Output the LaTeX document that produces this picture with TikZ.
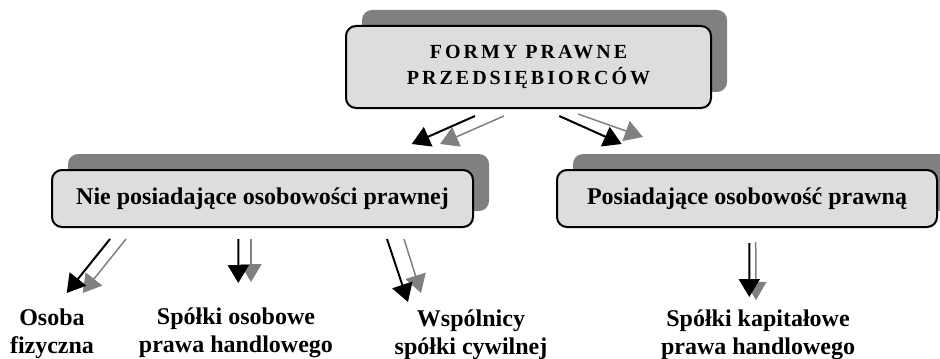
\documentclass[tikz,border=0pt]{standalone}
\usepackage{fontspec}
\setmainfont{Liberation Serif}
\usepackage{tikz}
\usetikzlibrary{arrows.meta,shadows}
\definecolor{boxfill}{RGB}{221,221,221}
\definecolor{shadowgray}{RGB}{128,128,128}

\begin{document}
\begin{tikzpicture}[
  x=0.5pt,y=-0.5pt,
  form/.style={draw,line width=1pt,rounded corners=5pt,fill=boxfill,align=center,inner sep=0pt,
    font=\fontsize{12}{14}\selectfont\bfseries,
    drop shadow={shadow xshift=8pt,shadow yshift=8pt,fill=shadowgray,opacity=1}},
  kind/.style={align=center,anchor=north,inner sep=0pt,font=\fontsize{12}{14}\selectfont\bfseries},
  blk/.style={line width=1pt,draw=black,-{Triangle[length=9pt,width=10.5pt,fill=black]}},
  gry/.style={line width=0.75pt,draw=shadowgray,-{Triangle[length=9pt,width=10.5pt,fill=shadowgray]}}
]
\useasboundingbox (0,0) rectangle (940,358);
\node[form,minimum width=182.5pt,minimum height=41pt,
  font={\fontsize{10}{13}\selectfont\bfseries\addfontfeatures{LetterSpace=15}}] (top) at (528.5,67) {FORMY PRAWNE\\PRZEDSIĘBIORCÓW};
\node[form,minimum width=210.5pt,minimum height=28.5pt] (nie) at (262.5,198.5) {Nie posiadające osobowości prawnej};
\node[form,minimum width=190pt,minimum height=28.5pt] (pos) at (747,198.5) {Posiadające osobowość prawną};
\node[kind] (osoba) at (52,308) {Osoba\\fizyczna};
\node[kind] (osobowe) at (236,307.5) {Spółki osobowe\\prawa handlowego};
\node[kind] (wspol) at (471,309) {Wspólnicy\\spółki cywilnej};
\node[kind] (kapital) at (758,309.5) {Spółki kapitałowe\\prawa handlowego};
\draw[gry] ([shift={(-24.5,7)}]top.south) -- ([shift={(177.5,-25)}]nie.north);
\draw[blk] ([shift={(-53.5,7)}]top.south) -- ([shift={(149.2,-25)}]nie.north);
\draw[gry] ([shift={(49.5,5)}]top.south) -- ([shift={(-104,-32)}]pos.north);
\draw[blk] ([shift={(30.8,7)}]top.south) -- ([shift={(-125.3,-25)}]pos.north);
\draw[gry] ([shift={(-136.5,11)}]nie.south) -- ([shift={(30.7,-15)}]osoba.north);
\draw[blk] ([shift={(-152.5,11)}]nie.south) -- ([shift={(14.7,-15)}]osoba.north);
\draw[gry] ([shift={(-11.5,11)}]nie.south) -- ([shift={(15,-25.5)}]osobowe.north);
\draw[blk] ([shift={(-24.2,11)}]nie.south) -- ([shift={(2.3,-24.5)}]osobowe.north);
\draw[gry] ([shift={(141.5,11)}]nie.south) -- ([shift={(-50,-16)}]wspol.north);
\draw[blk] ([shift={(124.5,11)}]nie.south) -- ([shift={(-63,-7)}]wspol.north);
\draw[gry] ([shift={(8.7,14)}]pos.south) -- ([shift={(-2,-9.5)}]kapital.north);
\draw[blk] ([shift={(2.3,15)}]pos.south) -- ([shift={(-8.7,-12.5)}]kapital.north);
\end{tikzpicture}
\end{document}
